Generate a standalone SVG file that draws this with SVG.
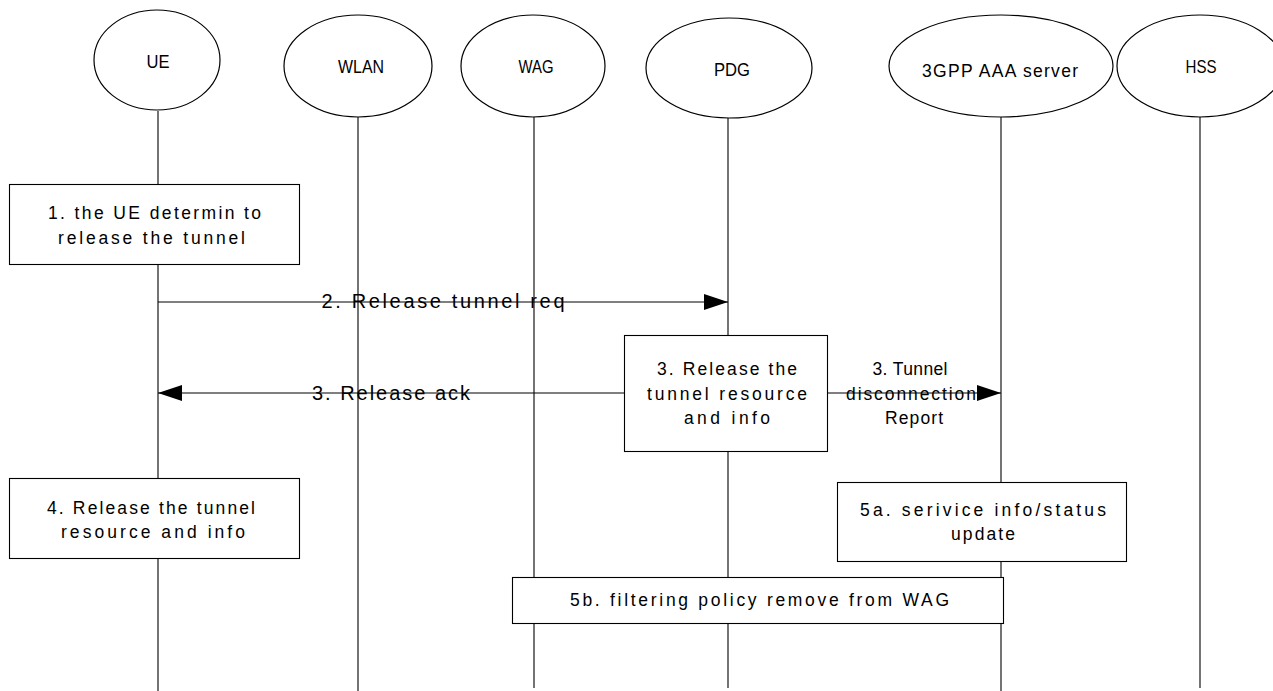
<svg xmlns="http://www.w3.org/2000/svg" width="1273" height="691" viewBox="0 0 1273 691">
<style>
.bg{fill:#fff}
.ent{fill:#fff;stroke:#000;stroke-width:1.2}
.life{stroke:#000;stroke-width:1.1;fill:none}
.box{fill:#fff;stroke:#000;stroke-width:1.1}
.msg{stroke:#000;stroke-width:1.1;fill:none}
text{font-family:"Liberation Sans",Arial,sans-serif;fill:#000;text-anchor:middle}
.t{font-size:17.5px}
.l{font-size:20px}
</style>
<defs>
<marker id="ah" markerWidth="24" markerHeight="16" refX="24" refY="8" orient="auto" markerUnits="userSpaceOnUse">
<path d="M0,0 L24,8 L0,16 Z" fill="#000"/>
</marker>
</defs>
<rect class="bg" x="0" y="0" width="1273" height="691"/>
<g id="lifelines">
<line class="life" x1="158" y1="111" x2="158" y2="691"/>
<line class="life" x1="358" y1="117" x2="358" y2="691"/>
<line class="life" x1="534" y1="117" x2="534" y2="688"/>
<line class="life" x1="728" y1="118" x2="728" y2="688"/>
<line class="life" x1="1001" y1="117" x2="1001" y2="691"/>
<line class="life" x1="1200" y1="117" x2="1200" y2="688"/>
</g>
<g id="UE">
<ellipse class="ent" cx="157" cy="60" rx="63" ry="50"/>
<text class="t" x="158" y="68" textLength="23" lengthAdjust="spacingAndGlyphs">UE</text>
</g>
<g id="WLAN">
<ellipse class="ent" cx="358" cy="66" rx="74" ry="51"/>
<text class="t" x="361" y="73" textLength="46" lengthAdjust="spacingAndGlyphs">WLAN</text>
</g>
<g id="WAG">
<ellipse class="ent" cx="533" cy="66" rx="72" ry="51"/>
<text class="t" x="536" y="73" textLength="35" lengthAdjust="spacingAndGlyphs">WAG</text>
</g>
<g id="PDG">
<ellipse class="ent" cx="729" cy="68" rx="83" ry="50"/>
<text class="t" x="732" y="76" textLength="36" lengthAdjust="spacingAndGlyphs">PDG</text>
</g>
<g id="AAA">
<ellipse class="ent" cx="1001" cy="66" rx="112" ry="51"/>
<text class="t" x="1000" y="77" textLength="156" lengthAdjust="spacing">3GPP AAA server</text>
</g>
<g id="HSS">
<ellipse class="ent" cx="1200" cy="66" rx="83" ry="51"/>
<text class="t" x="1201" y="73" textLength="31" lengthAdjust="spacingAndGlyphs">HSS</text>
</g>
<g id="connectors">
<line class="msg" x1="158" y1="302" x2="728" y2="302" marker-end="url(#ah)"/>
<text class="l" x="443" y="308" textLength="243" lengthAdjust="spacing">2. Release tunnel req</text>
<line class="msg" x1="624" y1="393" x2="158" y2="393" marker-end="url(#ah)"/>
<text class="l" x="391" y="400" textLength="158" lengthAdjust="spacing">3. Release ack</text>
<line class="msg" x1="828" y1="393" x2="1001" y2="393" marker-end="url(#ah)"/>
<text class="t" x="910" y="375" textLength="75" lengthAdjust="spacing">3. Tunnel</text>
<text class="t" x="911" y="400" textLength="130" lengthAdjust="spacing">disconnection</text>
<text class="t" x="914" y="424" textLength="58" lengthAdjust="spacing">Report</text>
</g>
<g id="step1">
<rect class="box" x="9.5" y="184.5" width="290" height="80"/>
<text class="t" x="154.5" y="219" textLength="213" lengthAdjust="spacing">1. the UE determin to</text>
<text class="t" x="151.5" y="244" textLength="187" lengthAdjust="spacing">release the tunnel</text>
</g>
<g id="step3">
<rect class="box" x="624.5" y="335.5" width="203" height="116"/>
<text class="t" x="727" y="375" textLength="140" lengthAdjust="spacing">3. Release the</text>
<text class="t" x="727" y="400" textLength="160" lengthAdjust="spacing">tunnel resource</text>
<text class="t" x="727" y="424" textLength="86" lengthAdjust="spacing">and info</text>
</g>
<g id="step4">
<rect class="box" x="9.5" y="478.5" width="290" height="80"/>
<text class="t" x="151" y="514" textLength="208" lengthAdjust="spacing">4. Release the tunnel</text>
<text class="t" x="153" y="538" textLength="184" lengthAdjust="spacing">resource and info</text>
</g>
<g id="step5a">
<rect class="box" x="837.5" y="482.5" width="289" height="79"/>
<text class="t" x="983" y="516" textLength="246" lengthAdjust="spacing">5a. serivice info/status</text>
<text class="t" x="983" y="540" textLength="64" lengthAdjust="spacing">update</text>
</g>
<g id="step5b">
<rect class="box" x="512.5" y="577.5" width="491" height="46"/>
<text class="t" x="759.5" y="606" textLength="379" lengthAdjust="spacing">5b. filtering policy remove from WAG</text>
</g>
</svg>
